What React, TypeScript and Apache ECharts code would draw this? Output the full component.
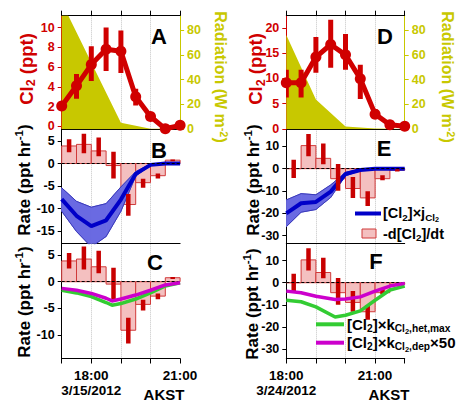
import React, { useEffect, useRef } from 'react';
import * as echarts from 'echarts';

const FONT = '"Liberation Sans", Arial, Helvetica, sans-serif';
const RED = '#d00000';
const YEL = '#c8c800';
const PINK = '#f4c0c0';
const BARRED = '#d03a3a';
const ERRRED = '#c80000';
const BLUE = '#0000c8';
const BAND = '#6a6ae2';
const BANDEDGE = '#3a3ab8';
const GREEN = '#33cc33';
const MAG = '#cc00cc';

// ---------- Left column: 3/15/2012 ----------
const timesL = [17, 17.5, 18, 18.5, 19, 19.5, 20, 20.5, 21];
const cl2L = [2.05, 4.1, 6.25, 7.8, 7.6, 3.0, 1.0, -0.25, 0.1];
const cl2LoL = [1.8, 2.8, 4.6, 5.6, 5.4, 2.1, 0.7, -0.4, 0.0];
const cl2HiL = [2.3, 5.3, 8.1, 10.0, 9.7, 3.8, 1.3, -0.1, 0.2];
const radTimesL = [17, 18, 19, 20, 21];
const radL = [103, 54, 5, 0, 0];
const rateL = [3.9, 4.25, 2.8, -0.45, -9.1, -4.25, -2.7, 0.75];
const rateLoL = [2.5, 2.3, 1.6, -3.3, -11.6, -5.4, -3.3, 0.5];
const rateHiL = [5.4, 6.6, 5.8, 2.6, -6.75, -3.4, -2.2, 0.9];
const jL = [-7.9, -11.6, -13.9, -12.6, -8.0, -2.3, -0.3, 0, 0];
const jUpL = [-5.4, -8.4, -9.7, -8.9, -5.2, -1.8, -0.15, 0, 0];
const jLoL = [-10.6, -15.1, -18.5, -16.2, -10.6, -2.8, -0.4, 0, 0];
const kTimesL = [17, 17.5, 18, 18.5, 18.7, 19, 19.5, 20, 20.5, 21];
const hetL = [-1.6, -2.1, -2.8, -3.9, -4.4, -4.1, -3.25, -2.1, -0.8, -0.2];
const depL = [-1.25, -1.6, -2.2, -3.1, -3.6, -3.25, -2.5, -1.6, -0.6, -0.2];

// ---------- Right column: 3/24/2012 ----------
const timesR = [18, 18.5, 19, 19.5, 20, 20.5, 21, 21.5, 22];
const cl2R = [9.1, 9.1, 14.2, 16.7, 14.65, 9.9, 2.9, 0.8, 0.5];
const cl2LoR = [6.2, 6.2, 11.1, 12.1, 11.7, 5.9, 2.0, 0.6, 0.3];
const cl2HiR = [11.7, 11.7, 18.2, 21.6, 18.8, 12.7, 3.9, 1.0, 0.7];
const radTimesR = [18, 19, 20, 21, 22];
const radR = [76, 24, 2, 0.5, 0];
const rateR = [0, 10.3, 4.6, -4.5, -8.9, -13.1, -4.5, -0.7];
const rateLoR = [-4.2, 5.5, 2.0, -9.9, -13.1, -16.7, -5.2, -1.3];
const rateHiR = [4.0, 15.5, 11.3, 2.1, -3.7, -10.1, -3.0, -0.3];
const jR = [-20, -15.5, -14.9, -10.3, -2.4, -0.6, -0.1, 0, 0];
const jUpR = [-14, -11.2, -11.7, -7.3, -1.7, -0.3, 0, 0, 0];
const jLoR = [-26, -19.5, -18.3, -12.9, -3.2, -0.9, -0.15, 0, 0];
const kTimesR = [18, 18.5, 19, 19.65, 20, 20.5, 21, 21.5, 22];
const hetR = [-7.9, -8.6, -10.9, -15.5, -14.7, -12.7, -7.9, -3.3, -1.5];
const depR = [-3.8, -4.5, -6.1, -7.6, -7.4, -6.4, -3.8, -1.5, -0.3];

// ---------- axes ----------
const dates = ['3/15/2012', '3/24/2012'];
const timeLabels = ['18:00', '21:00'];
const clMin = [-0.3, -0.1];
const clMax = [11.2, 22.4];
const radMin = [-0.4, -0.2];
const radMax = [92, 91.7];
const midMin = [-17.8, -33.6];
const midMax = [7.6, 17.6];
const botMin = [-14.4, -34.2];
const botMax = [7.13, 17.6];
const clTicks = [[0, 2, 4, 6, 8, 10], [0, 5, 10, 15, 20]];
const radTicks = [0, 20, 40, 60, 80];
const midTicks = [[-15, -10, -5, 0, 5], [-30, -20, -10, 0, 10]];
const botTicks = [[-10, -5, 0, 5], [-30, -20, -10, 0, 10]];

const cols = [
  { times: timesL, cl2: cl2L, lo: cl2LoL, hi: cl2HiL, radT: radTimesL, rad: radL, rate: rateL, rLo: rateLoL, rHi: rateHiL, j: jL, jUp: jUpL, jLo: jLoL, kT: kTimesL, het: hetL, dep: depL },
  { times: timesR, cl2: cl2R, lo: cl2LoR, hi: cl2HiR, radT: radTimesR, rad: radR, rate: rateR, rLo: rateLoR, rHi: rateHiR, j: jR, jUp: jUpR, jLo: jLoR, kT: kTimesR, het: hetR, dep: depR },
];

const lbl = { fontFamily: FONT, fontWeight: 'bold' as const, fontSize: 12.5 };

const barRender = (params: any, api: any) => {
  const a = api.coord([api.value(0), 0]);
  const b = api.coord([api.value(1), api.value(2)]);
  return {
    type: 'rect',
    shape: { x: a[0], y: Math.min(a[1], b[1]), width: b[0] - a[0], height: Math.abs(b[1] - a[1]) },
    style: { fill: PINK, stroke: BARRED, lineWidth: 1 },
  };
};
const errRender = (w: number, color: string) => (params: any, api: any) => {
  const a = api.coord([api.value(0), api.value(1)]);
  const b = api.coord([api.value(0), api.value(2)]);
  return {
    type: 'rect',
    shape: { x: a[0] - w / 2, y: Math.min(a[1], b[1]), width: w, height: Math.abs(a[1] - b[1]) },
    style: { fill: color },
  };
};
const bandRender = (params: any, api: any) => {
  const p1 = api.coord([api.value(0), api.value(1)]);
  const p2 = api.coord([api.value(3), api.value(4)]);
  const p3 = api.coord([api.value(3), api.value(5)]);
  const p4 = api.coord([api.value(0), api.value(2)]);
  return {
    type: 'polygon',
    shape: { points: [p1, p2, p3, p4] },
    style: { fill: BAND, stroke: BAND, lineWidth: 1 },
  };
};

function buildColumn(c: number) {
  const d = cols[c];
  const left = c === 0 ? 61.7 : 286.3;
  const width = 118.4;
  const gi = c * 3;
  const xi = c * 4;
  const yi = c * 4;
  const grids = [
    { left, top: 15.7, width, height: 113.6 },
    { left, top: 129.3, width, height: 114.4 },
    { left, top: 243.7, width, height: 114.8 },
  ];
  const t0 = d.times[0];
  const t1 = d.times[d.times.length - 1];
  const split = { show: true, showMinLine: false, showMaxLine: false, lineStyle: { color: '#c4c4c4', type: 'dotted', width: 1 } };
  const xb = (g: number) => ({ type: 'value', gridIndex: gi + g, min: t0, max: t1, interval: 1 });
  const blackLine = { show: true, onZero: false, lineStyle: { color: '#000', width: 1 } };
  const xAxes = [
    { ...xb(0), position: 'top', axisLine: blackLine, axisTick: { show: true, length: 5, lineStyle: { color: '#000' } }, axisLabel: { show: false }, splitLine: split },
    { ...xb(0), position: 'bottom', axisLine: blackLine, axisTick: { show: false }, axisLabel: { show: false }, splitLine: { show: false } },
    { ...xb(1), position: 'bottom', axisLine: blackLine, axisTick: { show: false }, axisLabel: { show: false }, splitLine: split },
    {
      ...xb(2), position: 'bottom', axisLine: blackLine,
      axisTick: { show: true, length: 5, lineStyle: { color: '#000' } },
      axisLabel: {
        show: true, color: '#000', margin: 9, lineHeight: 15.5, ...lbl, fontSize: 13.5,
        formatter: (v: number) => (v === 18 ? timeLabels[0] + '\n' + dates[c] : v === 21 ? timeLabels[1] : ''),
      },
      splitLine: split,
    },
  ];
  const yax = (g: number, pos: string, min: number, max: number, ticks: number[], color: string) => ({
    type: 'value', gridIndex: gi + g, position: pos, min, max,
    axisLine: { show: true, onZero: false, lineStyle: { color, width: 1 } },
    axisTick: { show: true, length: 4, customValues: ticks, lineStyle: { color } },
    axisLabel: { show: true, customValues: ticks, color, margin: 7, lineHeight: 11, ...lbl },
    splitLine: { show: false },
  });
  const yAxes = [
    yax(0, 'left', clMin[c], clMax[c], clTicks[c], RED),
    yax(0, 'right', radMin[c], radMax[c], radTicks, YEL),
    yax(1, 'left', midMin[c], midMax[c], midTicks[c], '#000'),
    yax(2, 'left', botMin[c], botMax[c], botTicks[c], '#000'),
  ];

  const zip = (ts: number[], vs: number[]) => ts.map((t, i) => [t, vs[i]]);
  const barData = d.rate.map((v, i) => [d.times[i], d.times[i + 1], v]);
  const errData = d.rate.map((v, i) => [(d.times[i] + d.times[i + 1]) / 2, d.rLo[i], d.rHi[i]]);
  const bandData = d.times.slice(0, -1).map((t, i) => [t, d.jLo[i], d.jUp[i], d.times[i + 1], d.jLo[i + 1], d.jUp[i + 1]]);
  const zeroLine = {
    silent: true, symbol: ['none', 'none'], label: { show: false },
    lineStyle: { color: '#000', type: [3, 2], width: 1 }, data: [{ yAxis: 0 }],
  };
  const bars = (xa: number, ya: number) => ({
    type: 'custom', xAxisIndex: xa, yAxisIndex: ya, renderItem: barRender, data: barData,
    encode: { x: [0, 1], y: 2 }, clip: true, z: 2, silent: true, markLine: zeroLine,
  });
  const errs = (xa: number, ya: number, z: number) => ({
    type: 'custom', xAxisIndex: xa, yAxisIndex: ya, renderItem: errRender(4.5, ERRRED), data: errData,
    encode: { x: 0, y: [1, 2] }, clip: true, z, silent: true,
  });
  const plainLine = (xa: number, ya: number, data: number[][], color: string, w: number, z: number, extra: any = {}) => ({
    type: 'line', xAxisIndex: xa, yAxisIndex: ya, data, symbol: 'none', silent: true,
    lineStyle: { color, width: w }, itemStyle: { color }, z, ...extra,
  });

  const series: any[] = [
    // Panel A / D
    plainLine(xi, yi + 1, zip(d.radT, d.rad), YEL, 0, 1, { areaStyle: { color: YEL, opacity: 1, origin: 'start' } }),
    {
      type: 'custom', xAxisIndex: xi, yAxisIndex: yi, renderItem: errRender(5, RED),
      data: d.times.map((t, i) => [t, d.lo[i], d.hi[i]]), encode: { x: 0, y: [1, 2] }, clip: true, z: 3, silent: true,
    },
    {
      type: 'line', xAxisIndex: xi, yAxisIndex: yi, data: zip(d.times, d.cl2), symbol: 'circle', symbolSize: 11,
      lineStyle: { color: RED, width: 5 }, itemStyle: { color: RED }, z: 4, silent: true,
    },
    // Panel B / E
    bars(xi + 2, yi + 2),
    {
      type: 'custom', xAxisIndex: xi + 2, yAxisIndex: yi + 2, renderItem: bandRender, data: bandData,
      encode: { x: [0, 3], y: [1, 2, 4, 5] }, clip: true, z: 3, silent: true,
    },
    plainLine(xi + 2, yi + 2, zip(d.times, d.jLo), BANDEDGE, 1, 3),
    plainLine(xi + 2, yi + 2, zip(d.times, d.jUp), BANDEDGE, 1, 3),
    plainLine(xi + 2, yi + 2, zip(d.times, d.j), BLUE, 4, 4),
    errs(xi + 2, yi + 2, 5),
    // Panel C / F
    bars(xi + 3, yi + 3),
    errs(xi + 3, yi + 3, 3),
    plainLine(xi + 3, yi + 3, zip(d.kT, d.het), GREEN, 3.5, 4),
    plainLine(xi + 3, yi + 3, zip(d.kT, d.dep), MAG, 3.5, 5),
  ];
  return { grids, xAxes, yAxes, series };
}

function rich(size: number, color: string) {
  const base = { fontFamily: FONT, fontWeight: 'bold', fill: color, color };
  const s = size * 0.68;
  return {
    n: { ...base, fontSize: size, lineHeight: size + 3 },
    s: { ...base, fontSize: s, lineHeight: s, padding: [size * 0.55, 0, 0, 0] },
    ss: { ...base, fontSize: size * 0.5, lineHeight: size * 0.5, padding: [size * 0.95, 0, 0, 0] },
    p: { ...base, fontSize: s, lineHeight: s, padding: [0, 0, size * 0.55, 0] },
  };
}

function txt(x: number, y: number, text: string, size: number, color: string, rotation = 0, align = 'center') {
  return {
    type: 'text', x, y, rotation, silent: true, z: 100,
    style: {
      text, rich: rich(size, color), align, textAlign: align, verticalAlign: 'middle', textVerticalAlign: 'middle',
      fill: color, font: `bold ${size}px ${FONT}`,
    },
  };
}

function letter(x: number, y: number, t: string) {
  return {
    type: 'text', x, y, silent: true, z: 100,
    style: { text: t, font: `bold 22px ${FONT}`, fill: '#000', align: 'center', textAlign: 'center', verticalAlign: 'middle', textVerticalAlign: 'middle' },
  };
}

function buildOption() {
  const a = buildColumn(0);
  const b = buildColumn(1);
  const R = Math.PI / 2;
  const graphic: any[] = [
    txt(26, 69, '{n|Cl}{s|2}{n| (ppt)}', 18.5, RED, R),
    txt(255.5, 69, '{n|Cl}{s|2}{n| (ppt)}', 18.5, RED, R),
    txt(220, 77, '{n|Radiation (W m}{p|-2}{n|)}', 16, YEL, -R),
    txt(447, 77, '{n|Radiation (W m}{p|-2}{n|)}', 16, YEL, -R),
    txt(24, 180, '{n|Rate (ppt hr}{p|-1}{n|)}', 17, '#000', R),
    txt(24, 302, '{n|Rate (ppt hr}{p|-1}{n|)}', 17, '#000', R),
    txt(253, 180, '{n|Rate (ppt hr}{p|-1}{n|)}', 17, '#000', R),
    txt(252, 304, '{n|Rate (ppt hr}{p|-1}{n|)}', 17, '#000', R),
    letter(159, 36, 'A'),
    letter(159, 150, 'B'),
    letter(155, 262, 'C'),
    letter(385, 36, 'D'),
    letter(384, 148, 'E'),
    letter(376, 261, 'F'),
    txt(164, 394, '{n|AKST}', 15, '#000'),
    txt(389, 394, '{n|AKST}', 15, '#000'),
    // legend E
    { type: 'line', shape: { x1: 355, y1: 213.5, x2: 381, y2: 213.5 }, style: { stroke: BLUE, lineWidth: 4 }, silent: true, z: 100 },
    txt(383, 213, '{n|[Cl}{s|2}{n|]×j}{s|Cl}{ss|2}', 14.5, '#000', 0, 'left'),
    { type: 'rect', shape: { x: 362, y: 229, width: 14, height: 9 }, style: { fill: PINK, stroke: BARRED, lineWidth: 1 }, silent: true, z: 100 },
    txt(383, 233.5, '{n|-d[Cl}{s|2}{n|]/dt}', 14.5, '#000', 0, 'left'),
    // legend F
    { type: 'line', shape: { x1: 316, y1: 324.3, x2: 344, y2: 324.3 }, style: { stroke: GREEN, lineWidth: 4 }, silent: true, z: 100 },
    txt(347, 324, '{n|[Cl}{s|2}{n|]×k}{s|Cl}{ss|2}{s|,het,max}', 15, '#000', 0, 'left'),
    { type: 'line', shape: { x1: 316, y1: 342.7, x2: 344, y2: 342.7 }, style: { stroke: MAG, lineWidth: 4 }, silent: true, z: 100 },
    txt(347, 342.5, '{n|[Cl}{s|2}{n|]×k}{s|Cl}{ss|2}{s|,dep}{n|×50}', 15, '#000', 0, 'left'),
  ];
  return {
    animation: false,
    backgroundColor: '#fff',
    grid: [...a.grids, ...b.grids],
    xAxis: [...a.xAxes, ...b.xAxes],
    yAxis: [...a.yAxes, ...b.yAxes],
    series: [...a.series, ...b.series],
    graphic,
  };
}

export default function App() {
  const ref = useRef<HTMLDivElement>(null);
  useEffect(() => {
    if (!ref.current) return;
    const chart = echarts.init(ref.current, null, { renderer: 'svg' });
    chart.setOption(buildOption() as any);
    return () => chart.dispose();
  }, []);
  return <div ref={ref} style={{ position: 'absolute', left: 0, top: 0, width: 459, height: 406 }} />;
}
